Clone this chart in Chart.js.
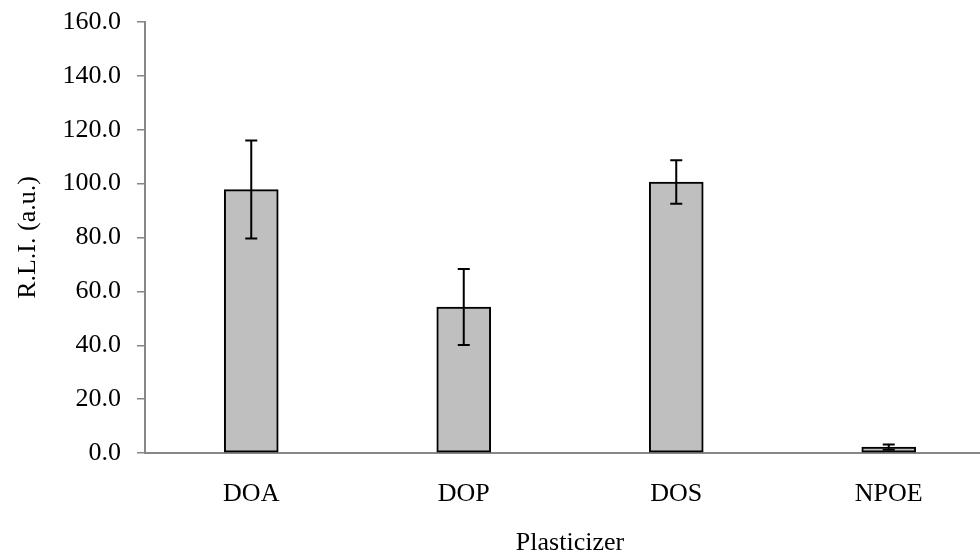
<!DOCTYPE html>
<html>
<head>
<meta charset="utf-8">
<script src="https://cdn.jsdelivr.net/npm/chart.js@4"></script>
<style>
    html, body { margin: 0; padding: 0; background: #fff; overflow: hidden; }
    #wrap { width: 980px; height: 556px; overflow: hidden; }
</style>
</head>
<body>
<div id="wrap">
    <canvas id="rliChart" width="1000" height="556"></canvas>
</div>
<script>
// Veriler
const plasticizers = ["DOA", "DOP", "DOS", "NPOE"];
const rliValues = [97.8, 54.2, 100.6, 2.2];
const rliErrors = [18.2, 14.1, 8.1, 1.0];
const yTicks = [0, 20, 40, 60, 80, 100, 120, 140, 160];

const axisGray = "#878787";
const serif = "'Liberation Serif', 'Times New Roman', serif";

// Hata çubukları (bar üzerine çizilir)
const errorBars = {
    id: "errorBars",
    afterDatasetsDraw(chart) {
        const ctx = chart.ctx;
        const meta = chart.getDatasetMeta(0);
        const y = chart.scales.y;
        ctx.save();
        ctx.strokeStyle = "#000";
        ctx.lineWidth = 2;
        meta.data.forEach((bar, i) => {
            const top = y.getPixelForValue(rliValues[i] + rliErrors[i]);
            const bottom = y.getPixelForValue(rliValues[i] - rliErrors[i]);
            const x = bar.x;
            ctx.beginPath();
            ctx.moveTo(x, top); ctx.lineTo(x, bottom);
            ctx.moveTo(x - 6, top); ctx.lineTo(x + 6, top);
            ctx.moveTo(x - 6, bottom); ctx.lineTo(x + 6, bottom);
            ctx.stroke();
        });
        ctx.restore();
    }
};

const ctx = document.getElementById("rliChart").getContext("2d");

new Chart(ctx, {
    type: "bar",
    data: {
        labels: plasticizers,
        datasets: [{
            data: rliValues,
            backgroundColor: "#bfbfbf",
            borderColor: "#000",
            borderWidth: 2,
            borderSkipped: false,
            barThickness: 54
        }]
    },
    plugins: [errorBars],
    options: {
        responsive: false,
        animation: false,
        layout: { padding: { left: 0, right: 5, top: 22, bottom: 0 } },
        plugins: {
            legend: { display: false },
            tooltip: { enabled: false }
        },
        scales: {
            x: {
                grid: { display: false, drawTicks: false },
                border: { display: true, color: axisGray, width: 2 },
                ticks: {
                    color: "#000",
                    padding: 26,
                    font: { family: serif, size: 26, lineHeight: 1.2 }
                },
                title: {
                    display: true,
                    text: "Plasticizer",
                    color: "#000",
                    padding: { top: 0, bottom: 0 },
                    font: { family: serif, size: 26, lineHeight: 1.0 }
                },
                afterFit(scale) {
                    scale.height = 103;
                    scale.paddingLeft = 0;
                    scale.paddingRight = 0;
                }
            },
            y: {
                min: 0,
                max: 160,
                afterBuildTicks(scale) {
                    scale.ticks = yTicks.map(v => ({ value: v }));
                },
                grid: {
                    drawOnChartArea: false,
                    drawTicks: true,
                    tickLength: 8,
                    color: axisGray,
                    lineWidth: 1.5
                },
                border: { display: true, color: axisGray, width: 2 },
                ticks: {
                    color: "#000",
                    padding: 16,
                    font: { family: serif, size: 26 },
                    callback: v => v.toFixed(1)
                },
                title: {
                    display: true,
                    text: "R.L.I. (a.u.)",
                    color: "#000",
                    padding: { top: 15, bottom: 0 },
                    font: { family: serif, size: 26, lineHeight: 1.0 }
                },
                afterFit(scale) {
                    scale.width = 145;
                    scale.paddingTop = 0;
                    scale.paddingBottom = 0;
                }
            }
        }
    }
});
</script>
</body>
</html>
